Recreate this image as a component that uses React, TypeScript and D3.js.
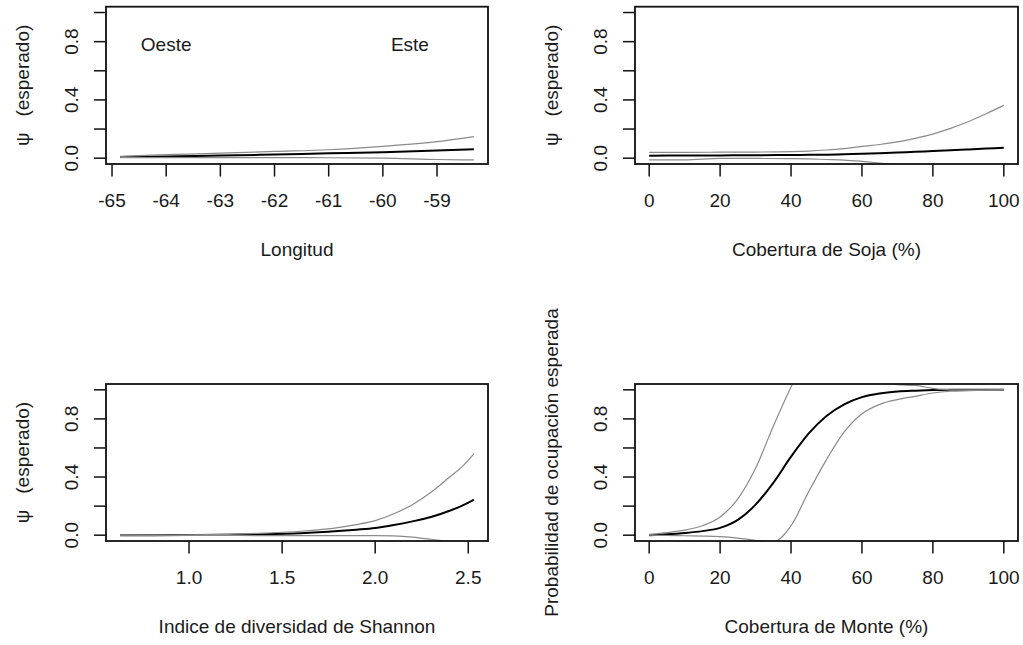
import React, { useEffect, useRef } from "react";
import * as d3 from "d3";

// Longitud panel
const lonX = [-64.85, -64, -63, -62, -61, -60, -59, -58.32];
const lonFit = [0.008, 0.012, 0.018, 0.025, 0.033, 0.04, 0.052, 0.062];
const lonHi = [0.012, 0.024, 0.034, 0.046, 0.058, 0.081, 0.113, 0.148];
const lonLo = [0.004, 0.004, 0.004, 0.004, 0.003, 0.001, -0.009, -0.012];
const lonTicks = [-65, -64, -63, -62, -61, -60, -59];

// Cobertura de Soja panel
const sojaX = [0, 10, 20, 30, 40, 45, 50, 55, 60, 65, 70, 75, 80, 85, 90, 95, 100];
const sojaFit = [0.017, 0.018, 0.019, 0.02, 0.022, 0.023, 0.024, 0.027, 0.03, 0.034, 0.039, 0.044, 0.049, 0.054, 0.06, 0.066, 0.072];
const sojaHi = [0.04, 0.04, 0.041, 0.042, 0.045, 0.049, 0.056, 0.066, 0.081, 0.094, 0.112, 0.136, 0.165, 0.205, 0.25, 0.305, 0.363];
const sojaLo = [-0.012, -0.012, -0.002, -0.002, -0.003, -0.005, -0.009, -0.013, -0.022, -0.033, -0.046, -0.06, -0.075, -0.09, -0.105, -0.12, -0.135];
const pctTicks = [0, 20, 40, 60, 80, 100];

// Shannon panel
const shanX = [0.63, 0.8, 1.0, 1.2, 1.4, 1.6, 1.8, 1.9, 2.0, 2.1, 2.2, 2.3, 2.4, 2.47, 2.53];
const shanFit = [0.0, 0.0, 0.001, 0.003, 0.006, 0.013, 0.028, 0.038, 0.05, 0.07, 0.095, 0.125, 0.168, 0.205, 0.245];
const shanHi = [0.0, 0.0, 0.002, 0.006, 0.014, 0.027, 0.052, 0.073, 0.1, 0.147, 0.21, 0.295, 0.4, 0.475, 0.56];
const shanLo = [0.0, -0.002, -0.002, -0.002, -0.003, -0.003, -0.003, -0.003, -0.003, -0.005, -0.013, -0.028, -0.045, -0.055, -0.065];
const shanTicks = [1.0, 1.5, 2.0, 2.5];

// Cobertura de Monte panel
const monteX = [0, 5, 10, 15, 20, 25, 30, 35, 40, 45, 50, 55, 60, 65, 70, 75, 80, 85, 90, 95, 100];
const monteFit = [0.0, 0.006, 0.015, 0.028, 0.05, 0.105, 0.21, 0.36, 0.54, 0.7, 0.82, 0.9, 0.95, 0.975, 0.988, 0.994, 0.998, 1.0, 1.0, 1.0, 1.0];
const monteHi = [0.006, 0.018, 0.035, 0.065, 0.125, 0.25, 0.46, 0.75, 1.02, 1.25, 1.35, 1.3, 1.2, 1.1, 1.035, 1.03, 1.01, 1.0, 1.0, 1.0, 1.0];
const monteLo = [0.0, -0.002, -0.004, -0.006, -0.01, -0.02, -0.035, -0.045, 0.065, 0.3, 0.52, 0.71, 0.835, 0.9, 0.933, 0.955, 0.978, 0.99, 0.994, 0.997, 1.0];

const yTicks = [0, 0.2, 0.4, 0.6, 0.8, 1.0];
const yLabels = [0, 0.4, 0.8];
const psiLabel = "ψ   (esperado)";

const FONT = "'Liberation Sans', Arial, sans-serif";
const TXT = "#1a1a1a";

const panels = [
  { id: "lon", x: lonX, fit: lonFit, hi: lonHi, lo: lonLo, ticks: lonTicks, fmt: (v) => String(v),
    xlab: "Longitud", ylab: psiLabel, left: 106, right: 488, top: 6.7, bottom: 164,
    notes: [{ x: -64, y: 0.78, t: "Oeste" }, { x: -59.5, y: 0.78, t: "Este" }] },
  { id: "soja", x: sojaX, fit: sojaFit, hi: sojaHi, lo: sojaLo, ticks: pctTicks, fmt: (v) => String(v),
    xlab: "Cobertura de Soja (%)", ylab: psiLabel, left: 635, right: 1018, top: 6.7, bottom: 164, notes: [] },
  { id: "shan", x: shanX, fit: shanFit, hi: shanHi, lo: shanLo, ticks: shanTicks, fmt: d3.format(".1f"),
    xlab: "Indice de diversidad de Shannon", ylab: psiLabel, left: 106, right: 488, top: 384, bottom: 541, notes: [] },
  { id: "monte", x: monteX, fit: monteFit, hi: monteHi, lo: monteLo, ticks: pctTicks, fmt: (v) => String(v),
    xlab: "Cobertura de Monte (%)", ylab: "Probabilidad de ocupación esperada", left: 635, right: 1018, top: 384, bottom: 541, notes: [] },
];

export default function App() {
  const svgRef = useRef(null);

  useEffect(() => {
    const svg = d3.select(svgRef.current);
    svg.selectAll("*").remove();
    svg.append("rect").attr("width", 1023).attr("height", 645).attr("fill", "#fff");

    panels.forEach((p) => {
      const [x0, x1] = d3.extent(p.x);
      const pad = (x1 - x0) * 0.04;
      const xScale = d3.scaleLinear().domain([x0 - pad, x1 + pad]).range([p.left, p.right]);
      const yScale = d3.scaleLinear().domain([-0.04, 1.04]).range([p.bottom, p.top]);

      const g = svg.append("g");

      g.append("clipPath")
        .attr("id", "clip-" + p.id)
        .append("rect")
        .attr("x", p.left)
        .attr("y", p.top)
        .attr("width", p.right - p.left)
        .attr("height", p.bottom - p.top);

      const line = (vals) =>
        d3.line()
          .x((_, i) => xScale(p.x[i]))
          .y((d) => yScale(d))
          .curve(d3.curveMonotoneX)(vals);

      const curves = g.append("g").attr("clip-path", `url(#clip-${p.id})`).attr("fill", "none");
      // fitted line first, CI lines drawn on top
      curves.append("path").attr("d", line(p.fit)).attr("stroke", "#000").attr("stroke-width", 2);
      curves.append("path").attr("d", line(p.hi)).attr("stroke", "#8a8a8a").attr("stroke-width", 1.2);
      curves.append("path").attr("d", line(p.lo)).attr("stroke", "#8a8a8a").attr("stroke-width", 1.2);

      // box
      g.append("rect")
        .attr("x", p.left)
        .attr("y", p.top)
        .attr("width", p.right - p.left)
        .attr("height", p.bottom - p.top)
        .attr("fill", "none")
        .attr("stroke", "#111")
        .attr("stroke-width", 1.8);

      // y axis
      g.selectAll(".yt")
        .data(yTicks)
        .enter()
        .append("line")
        .attr("x1", p.left - 12)
        .attr("x2", p.left)
        .attr("y1", (d) => yScale(d))
        .attr("y2", (d) => yScale(d))
        .attr("stroke", "#111")
        .attr("stroke-width", 1.5);

      g.selectAll(".yl")
        .data(yLabels)
        .enter()
        .append("text")
        .attr("transform", (d) => `translate(${p.left - 34.5},${yScale(d)}) rotate(-90)`)
        .attr("text-anchor", "middle")
        .attr("dominant-baseline", "central")
        .attr("font-family", FONT)
        .attr("font-size", 19)
        .attr("fill", TXT)
        .text((d) => d3.format(".1f")(d));

      // x axis
      g.selectAll(".xt")
        .data(p.ticks)
        .enter()
        .append("line")
        .attr("x1", (d) => xScale(d))
        .attr("x2", (d) => xScale(d))
        .attr("y1", p.bottom)
        .attr("y2", p.bottom + 12.5)
        .attr("stroke", "#111")
        .attr("stroke-width", 1.5);

      g.selectAll(".xl")
        .data(p.ticks)
        .enter()
        .append("text")
        .attr("x", (d) => xScale(d))
        .attr("y", p.bottom + 36)
        .attr("text-anchor", "middle")
        .attr("dominant-baseline", "central")
        .attr("font-family", FONT)
        .attr("font-size", 19)
        .attr("fill", TXT)
        .text((d) => p.fmt(d));

      // axis titles
      g.append("text")
        .attr("x", (p.left + p.right) / 2)
        .attr("y", p.bottom + 85)
        .attr("text-anchor", "middle")
        .attr("dominant-baseline", "central")
        .attr("font-family", FONT)
        .attr("font-size", 19)
        .attr("fill", TXT)
        .text(p.xlab);

      g.append("text")
        .attr("transform", `translate(${p.left - 84},${(p.top + p.bottom) / 2}) rotate(-90)`)
        .attr("text-anchor", "middle")
        .attr("dominant-baseline", "central")
        .attr("font-family", FONT)
        .attr("font-size", 19)
        .attr("fill", TXT)
        .style("white-space", "pre")
        .text(p.ylab);

      g.selectAll(".note")
        .data(p.notes)
        .enter()
        .append("text")
        .attr("x", (d) => xScale(d.x))
        .attr("y", (d) => yScale(d.y))
        .attr("text-anchor", "middle")
        .attr("dominant-baseline", "central")
        .attr("font-family", FONT)
        .attr("font-size", 19)
        .attr("fill", TXT)
        .text((d) => d.t);
    });
  }, []);

  return (
    <svg
      ref={svgRef}
      width={1023}
      height={645}
      style={{ position: "absolute", left: 0, top: 0 }}
    ></svg>
  );
}
